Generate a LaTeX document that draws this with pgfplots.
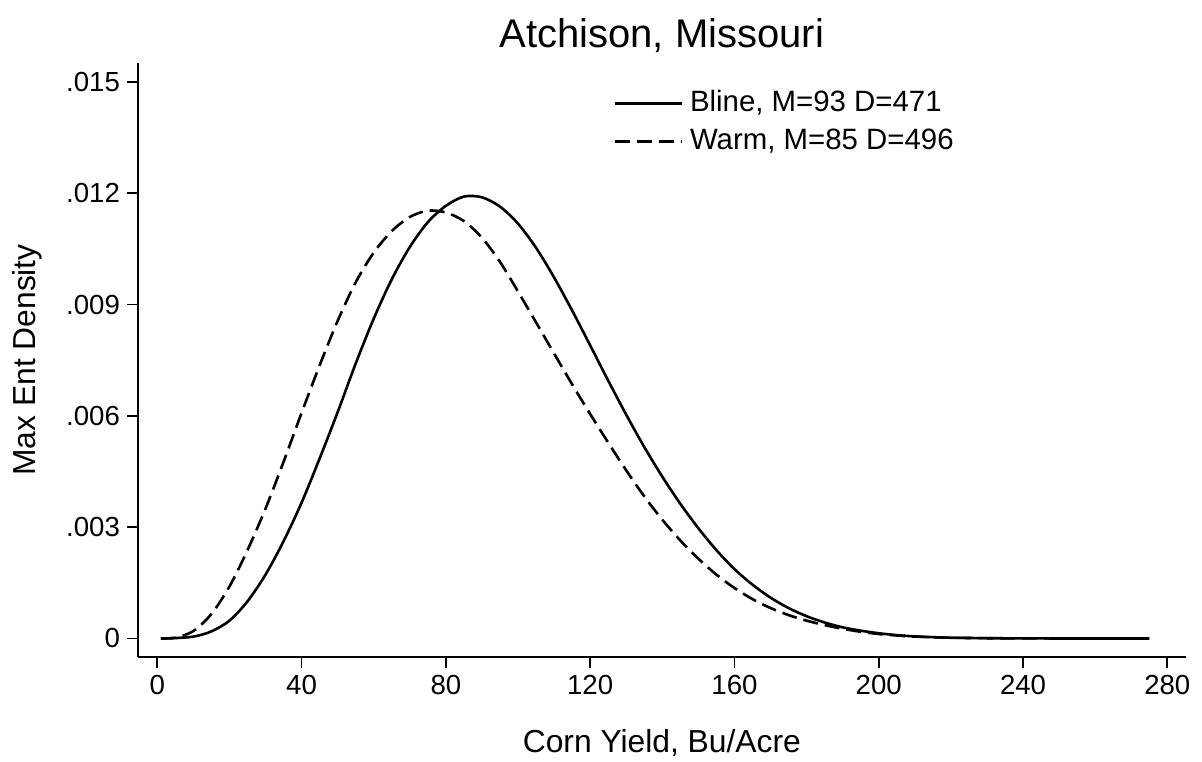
\documentclass[border=0pt]{standalone}
\usepackage{fontspec}
\setmainfont{Liberation Sans}
\usepackage{pgfplots}
\pgfplotsset{compat=1.18}
\begin{document}
\begin{tikzpicture}
\begin{axis}[
  scale only axis, width=523.85pt, height=297pt,
  at={(0,0)}, anchor=south west,
  xmin=-5.35, xmax=285.1, ymin=-0.0005, ymax=0.01551,
  axis x line*=bottom, axis y line*=left,
  axis line style={line width=0.9pt, black},
  tick style={line width=0.9pt, black},
  major tick length=5.5pt,
  tick align=outside,
  xtick={0,40,80,120,160,200,240,280},
  xticklabels={0,40,80,120,160,200,240,280},
  ytick={0,0.003,0.006,0.009,0.012,0.015},
  yticklabels={0,.003,.006,.009,.012,.015},
  scaled y ticks=false,
  /pgf/number format/assume math mode=true,
  ticklabel style={font=\fontsize{13.8}{16}\selectfont},
  title={Atchison, Missouri},
  title style={font=\fontsize{20}{24}\selectfont, at={(axis description cs:0.5,1.0051)}, anchor=base},
  xlabel={Corn Yield, Bu/Acre},
  xlabel style={font=\fontsize{15.9}{18}\selectfont, at={(axis description cs:0.5,-0.1611)}, anchor=base},
  ylabel={Max Ent Density},
  ylabel style={font=\fontsize{15.9}{18}\selectfont, at={(axis description cs:-0.09736,0.5)}, anchor=base},
  legend cell align=left,
  legend style={at={(axis description cs:0.4534,0.9562)}, anchor=north west, draw=none, fill=none, inner sep=0pt,
    font=\fontsize{14.7}{17}\selectfont, row sep=5pt, column sep=3.5pt,
    nodes={inner sep=0pt, text height=11pt, text depth=3pt}},
  legend image code/.code={\draw[#1] (0pt,0pt) -- (33.5pt,0pt);},
]
\addplot[black, line width=1.3pt, smooth] coordinates {
(1,0) (5,0.00001) (10,0.00005) (15,0.00019) (20,0.00048) (25,0.00100) (30,0.00172)
(35,0.00262) (40,0.00366) (45,0.00485) (50,0.00610) (55,0.00741) (60,0.00862)
(65,0.00968) (70,0.01055) (75,0.01122) (80,0.01166) (85,0.01191) (90,0.01189)
(95,0.01164) (100,0.01118) (105,0.01053) (110,0.00973) (115,0.00884) (120,0.00790)
(125,0.00695) (130,0.00603) (135,0.00516) (140,0.00436) (145,0.00363) (150,0.00297)
(155,0.00238) (160,0.00187) (165,0.00145) (170,0.00110) (175,0.00082) (180,0.00060)
(185,0.00043) (190,0.00030) (195,0.00021) (200,0.00014) (205,0.00009) (210,0.000055)
(215,0.000035) (220,0.00002) (230,0.000007) (240,0.000002) (250,0) (275,0)
};
\addlegendentry{Bline, M=93 D=471}
\addplot[black, line width=1.3pt, smooth, dash pattern=on 7.5pt off 3.5pt] coordinates {
(1,0) (5,0.00002) (10,0.00020) (15,0.00066) (20,0.00140) (25,0.00238) (30,0.00350)
(35,0.00476) (40,0.00608) (45,0.00736) (50,0.00856) (55,0.00960) (60,0.01040)
(65,0.01098) (70,0.01136) (75,0.01153) (80,0.01148) (85,0.01125) (90,0.01080)
(95,0.01015) (100,0.00935) (105,0.00852) (110,0.00768) (115,0.00685) (120,0.00605)
(125,0.00528) (130,0.00453) (135,0.00383) (140,0.00320) (145,0.00264) (150,0.00215)
(155,0.00172) (160,0.00136) (165,0.00106) (170,0.00082) (175,0.00063) (180,0.00048)
(185,0.00036) (190,0.00026) (195,0.00018) (200,0.00012) (205,0.00008) (210,0.00005)
(220,0.00002) (230,0.000007) (240,0.000002) (250,0) (275,0)
};
\addlegendentry{Warm, M=85 D=496}
\end{axis}
\pgfresetboundingbox
\path (-69pt,-52pt) rectangle (532pt,328.5pt);
\end{tikzpicture}
\end{document}
